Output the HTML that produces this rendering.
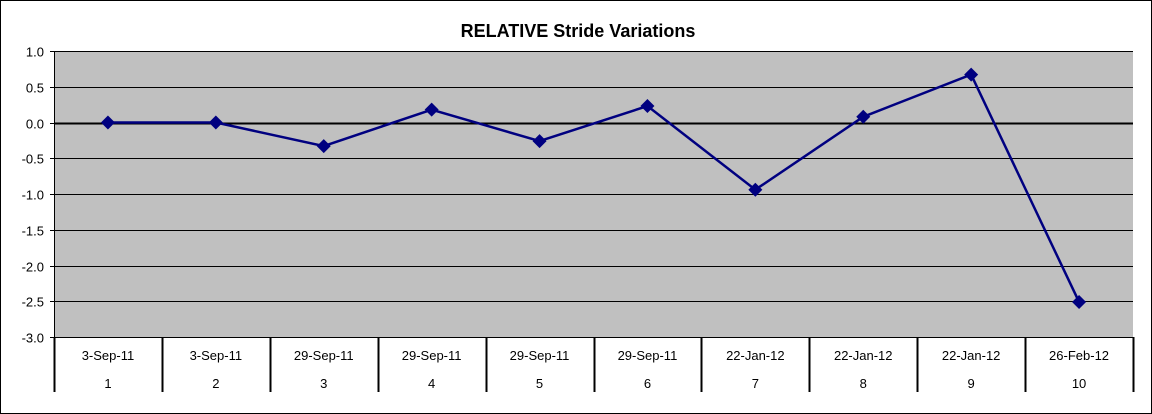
<!DOCTYPE html>
<html><head><meta charset="utf-8"><style>
html,body{margin:0;padding:0;background:#fff;}
svg{display:block;font-family:"Liberation Sans",Arial,sans-serif;}
</style></head><body>
<svg id="chart" width="1152" height="414" viewBox="0 0 1152 414" xmlns="http://www.w3.org/2000/svg">
<rect x="0.5" y="0.5" width="1151" height="413" fill="#fff" stroke="#000" stroke-width="1"/>
<text x="578" y="37" text-anchor="middle" font-size="18" font-weight="bold">RELATIVE Stride Variations</text>
<g id="plot"></g>
</svg>
<script>
const dates = ["3-Sep-11","3-Sep-11","29-Sep-11","29-Sep-11","29-Sep-11","29-Sep-11","22-Jan-12","22-Jan-12","22-Jan-12","26-Feb-12"];
const runs = ["1","2","3","4","5","6","7","8","9","10"];
const values = [0, 0, -0.33, 0.18, -0.26, 0.23, -0.94, 0.08, 0.67, -2.51];
const yTicks = [1.0, 0.5, 0.0, -0.5, -1.0, -1.5, -2.0, -2.5, -3.0];

const L=54, R=1133, T=51, B=337, yMax=1, yMin=-3;
const NS="http://www.w3.org/2000/svg";
const g=document.getElementById('plot');
const y=v=>T+(yMax-v)/(yMax-yMin)*(B-T);
const cw=(R-L)/dates.length;
const x=i=>L+cw*(i+0.5);
function mk(t,a,p){const e=document.createElementNS(NS,t);for(const k in a)e.setAttribute(k,a[k]);(p||g).appendChild(e);return e;}

const bg=mk('rect',{x:L,y:T,width:R-L,height:B-T,fill:'#c0c0c0'});



yTicks.forEach(v=>{
  const yy=Math.round(y(v))+0.5;
  const gl=mk('line',{x1:L,x2:R,y1:yy,y2:yy,stroke:'#000','stroke-width':v===0?2:1});
  
  
  const tk=mk('line',{x1:L-4,x2:L,y1:yy,y2:yy,stroke:'#000'});
  
  
  const tl=mk('text',{x:L-10,y:yy+5,'text-anchor':'end','font-size':13});
  tl.textContent=v.toFixed(1);
  
  
});
const ya=mk('line',{x1:L+0.5,x2:L+0.5,y1:T,y2:B,stroke:'#000'});



for(let i=0;i<=dates.length;i++){
  const xx=Math.round(L+cw*i)+0.5;
  const d=mk('line',{x1:xx,x2:xx,y1:B,y2:392,stroke:'#000','stroke-width':2});
  
  
}
dates.forEach((dt,i)=>{
  const t1=mk('text',{x:x(i),y:360,'text-anchor':'middle','font-size':13});
  t1.textContent=dt;
  
  
  const t2=mk('text',{x:x(i),y:388,'text-anchor':'middle','font-size':13});
  t2.textContent=runs[i];
  
  
});

const pts=values.map((v,i)=>x(i)+','+y(v)).join(' ');
const ln=mk('polyline',{points:pts,fill:'none',stroke:'#000080','stroke-width':2.5});


values.forEach((v,i)=>{
  const cx=x(i),cy=y(v),s=7;
  const m=mk('polygon',{points:`${cx},${cy-s} ${cx+s},${cy} ${cx},${cy+s} ${cx-s},${cy}`,fill:'#000080'});
  
  
});
</script>
</body></html>
